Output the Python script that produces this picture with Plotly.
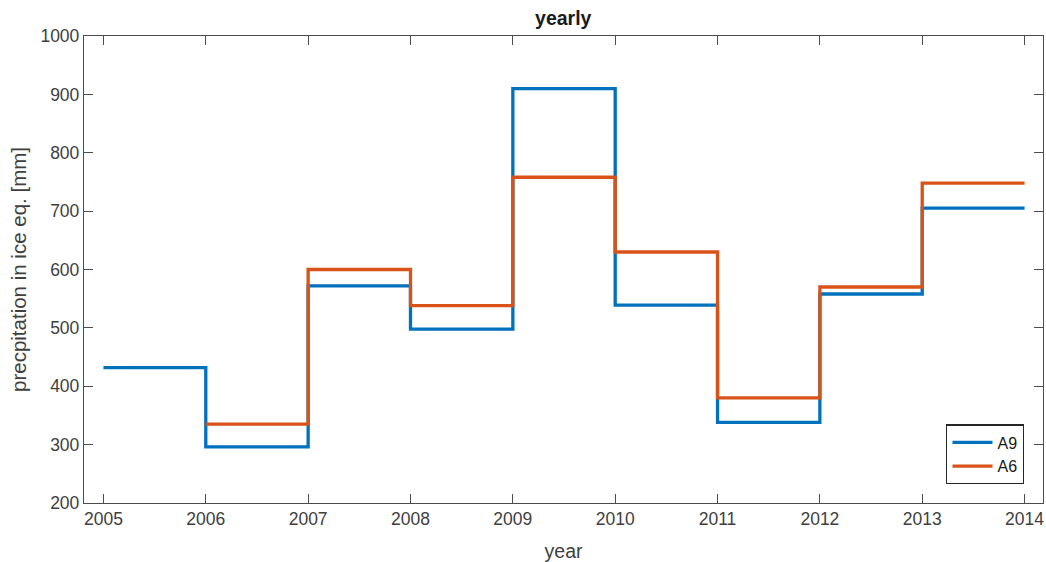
import plotly.graph_objects as go

# Yearly precipitation totals (ice equivalent, mm) at two stations
years_a9 = [2005, 2006, 2007, 2008, 2009, 2010, 2011, 2012, 2013, 2014]
precip_a9 = [432, 296, 572, 498, 910, 539, 338, 558, 705, 705]

years_a6 = [2006, 2007, 2008, 2009, 2010, 2011, 2012, 2013, 2014]
precip_a6 = [335, 600, 538, 758, 630, 380, 570, 748, 748]

x_ticks = list(range(2005, 2015))
y_ticks = list(range(200, 1001, 100))

FONT = "Liberation Sans, Arial, Helvetica, sans-serif"
AXIS_COLOR = "#4d4d4d"
TEXT_COLOR = "#404040"

fig = go.Figure()
fig.add_trace(go.Scatter(
    x=years_a9, y=precip_a9, name="A9", mode="lines",
    line=dict(color="#0072BD", width=3.3, shape="hv"),
))
fig.add_trace(go.Scatter(
    x=years_a6, y=precip_a6, name="A6", mode="lines",
    line=dict(color="#D95319", width=3.3, shape="hv"),
))

axis_common = dict(
    showline=True, linecolor=AXIS_COLOR, linewidth=1.3, mirror="allticks",
    ticks="inside", ticklen=9, tickwidth=1.2, tickcolor=AXIS_COLOR,
    showgrid=False, zeroline=False,
    tickfont=dict(family=FONT, size=17.5, color=TEXT_COLOR),
)

fig.update_layout(
    width=1046, height=562,
    margin=dict(l=84, r=3, t=36, b=59),
    paper_bgcolor="white", plot_bgcolor="white",
    font=dict(family=FONT, color=TEXT_COLOR),
    title=dict(text="<b>yearly</b>", x=0.5385, xanchor="center", y=0.967, yanchor="middle",
               font=dict(family=FONT, size=19.5, color="#1a1a1a")),
    xaxis=dict(range=[2004.81, 2014.18], tickvals=x_ticks,
               title=dict(text="year", font=dict(family=FONT, size=19.5, color=TEXT_COLOR), standoff=17),
               **axis_common),
    yaxis=dict(range=[200, 1000], tickvals=y_ticks,
               title=dict(text="precpitation in ice eq. [mm]", font=dict(family=FONT, size=20.5, color=TEXT_COLOR), standoff=8),
               **axis_common),
    legend=dict(x=0.9805, xanchor="right", y=0.04, yanchor="bottom",
                bgcolor="white", bordercolor="#262626", borderwidth=1.2,
                font=dict(family=FONT, size=16, color="#1a1a1a"),
                itemwidth=40, tracegroupgap=0),
    showlegend=True,
)

fig.write_html("out.html")
